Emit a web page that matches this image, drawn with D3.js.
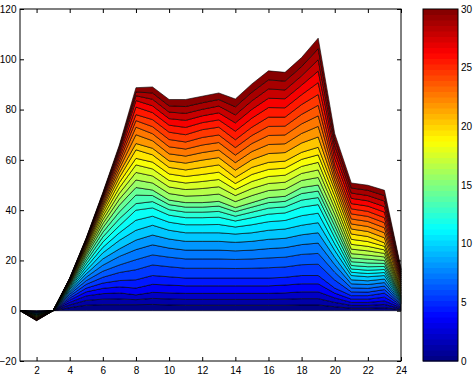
<!DOCTYPE html>
<html>
<head>
<meta charset="utf-8">
<script src="https://cdn.jsdelivr.net/npm/d3@7"></script>
<style>
  body { margin: 0; background: #fff; }
  svg { display: block; font-family: "Liberation Sans", Arial, sans-serif; font-size: 10px; }
</style>
</head>
<body>
<svg id="chart" width="475" height="376"></svg>
<script>
// x positions
const xValues = [1, 2, 3, 4, 5, 6, 7, 8, 9, 10, 11, 12, 13, 14, 15, 16, 17, 18, 19, 20, 21, 22, 23, 24]

// one row per x, 30 layer values each (bottom layer first)
const layerValues = [
  [0,0,0,0,0, 0,0,0,0,0, 0,0,0,0,0, 0,0,0,0,0, 0,0,0,0,0, 0,0,0,0,0],
  [-0.15,-0.15,-0.15,-0.15,-0.15, -0.15,-0.15,-0.15,-0.15,-0.15, -0.13,-0.13,-0.13,-0.13,-0.13, -0.13,-0.13,-0.13,-0.13,-0.13, -0.12,-0.12,-0.12,-0.12,-0.12, -0.12,-0.12,-0.12,-0.12,-0.12],
  [0,0,0,0,0, 0,0,0,0,0, 0,0,0,0,0, 0,0,0,0,0, 0,0,0,0,0, 0,0,0,0,0],
  [1.2,1.1,1.0,0.9,0.8, 0.8,0.75,0.7,0.65,0.6, 0.45,0.42,0.4,0.38,0.35, 0.3,0.28,0.26,0.24,0.22, 0.16,0.15,0.14,0.13,0.12, 0.11,0.1,0.1,0.1,0.09],
  [2.2,1.9,1.8,1.6,1.5, 1.5,1.45,1.4,1.35,1.3, 1.35,1.25,1.2,1.15,1.05, 0.85,0.75,0.7,0.65,0.55, 0.52,0.48,0.46,0.44,0.4, 0.28,0.26,0.24,0.22,0.2],
  [2.4,2.2,2.2,2.1,2.1, 2.3,2.4,2.4,2.5,2.4, 2.2,2.1,2.0,1.9,1.8, 1.6,1.5,1.4,1.3,1.2, 1.05,0.95,0.9,0.85,0.75, 0.6,0.55,0.5,0.45,0.4],
  [2.4,2.3,2.4,2.4,2.5, 3.2,3.0,3.4,3.0,3.4, 3.0,2.8,2.8,2.7,2.7, 2.4,2.3,2.2,2.1,2.0, 1.8,1.7,1.6,1.5,1.4, 1.2,1.1,1.0,0.9,0.8],
  [2.4,2.0,1.9,2.7,3.3, 4.0,4.0,4.0,3.8,3.9, 4.0,4.0,2.6,3.4,3.0, 3.0,3.0,3.0,2.6,3.4, 2.5,3.5,3.0,2.6,2.4, 3.0,2.6,1.9,1.5,1.7],
  [2.5,2.4,2.4,3.2,3.5, 4.2,4.0,4.0,3.9,3.9, 3.6,3.3,2.5,2.4,2.2, 2.8,2.8,2.8,2.7,2.9, 2.6,3.0,2.8,2.8,2.8, 2.8,2.7,2.6,2.5,2.4],
  [2.3,2.4,2.4,3.1,3.3, 4.0,3.8,3.6,3.6,3.5, 3.2,2.8,2.2,2.0,1.8, 2.6,2.6,2.6,2.6,2.6, 2.6,2.8,2.8,2.9,2.9, 2.8,2.6,2.6,2.5,2.5],
  [2.2,2.3,2.4,3.0,3.1, 3.9,3.7,3.5,3.5,3.4, 3.2,2.8,2.2,2.0,1.8, 2.6,2.6,2.6,2.6,2.6, 2.7,2.8,2.8,2.8,2.9, 2.9,2.8,2.8,2.7,2.8],
  [2.2,2.3,2.4,3.0,3.1, 3.9,3.7,3.5,3.5,3.4, 3.2,2.8,2.2,2.0,1.8, 2.8,2.8,2.8,2.8,2.8, 2.9,3.0,3.0,3.0,3.1, 2.8,2.7,2.6,2.6,2.6],
  [2.2,2.3,2.4,3.0,3.1, 3.9,3.7,3.5,3.5,3.4, 3.3,2.9,2.3,2.1,1.9, 2.9,2.9,2.9,2.9,2.9, 2.9,3.0,3.0,3.0,3.1, 2.9,2.8,2.7,2.6,2.6],
  [2.2,2.3,2.4,3.0,3.1, 3.8,3.6,3.4,3.4,3.3, 2.8,2.4,1.9,1.8,1.6, 2.4,2.4,2.4,2.4,2.4, 2.9,3.0,3.0,3.0,3.1, 3.4,3.3,3.2,3.2,3.1],
  [2.2,2.3,2.4,3.0,3.1, 3.9,3.7,3.5,3.5,3.4, 3.2,2.8,2.2,2.0,1.8, 2.8,2.8,2.8,2.8,2.8, 3.1,3.2,3.2,3.2,3.3, 3.6,3.5,3.4,3.4,3.3],
  [2.2,2.3,2.4,3.0,3.1, 4.1,3.9,3.7,3.7,3.6, 3.4,3.0,2.4,2.2,2.0, 2.8,2.8,2.8,2.8,2.8, 3.5,3.6,3.6,3.6,3.7, 3.8,3.7,3.7,3.6,3.6],
  [2.2,2.4,2.5,3.1,3.1, 4.1,3.9,3.8,3.7,3.7, 3.4,3.0,2.4,2.2,2.0, 2.8,2.8,2.8,2.8,2.8, 3.4,3.5,3.5,3.5,3.6, 3.7,3.6,3.5,3.5,3.5],
  [2.3,2.5,2.7,3.2,3.3, 4.3,4.1,3.9,3.9,3.8, 3.8,3.4,2.8,2.6,2.4, 2.8,2.8,2.8,2.8,2.8, 3.7,3.8,3.8,3.8,3.9, 3.9,3.8,3.7,3.7,3.6],
  [2.3,2.5,2.7,3.2,3.3, 4.5,4.3,4.1,4.1,4.0, 3.8,3.4,2.8,2.6,2.4, 3.0,3.0,3.0,3.0,3.0, 4.1,4.2,4.2,4.2,4.3, 4.7,4.6,4.5,4.4,4.2],
  [1.6,1.7,1.8,1.9,2.0, 3.2,3.1,3.0,2.9,2.8, 2.6,2.5,2.4,2.3,2.2, 2.4,2.4,2.4,2.4,2.4, 2.0,2.0,2.0,2.0,2.0, 2.6,2.5,2.5,2.4,2.4],
  [1.0,1.1,1.2,1.3,1.4, 1.5,1.6,1.6,1.6,1.7, 1.3,1.3,1.4,1.5,1.5, 1.7,1.8,1.9,2.0,2.1, 2.0,2.0,2.0,2.0,2.0, 2.1,2.1,2.1,2.0,2.0],
  [1.0,1.1,1.2,1.3,1.4, 1.4,1.5,1.5,1.5,1.6, 1.3,1.3,1.4,1.5,1.5, 1.6,1.7,1.8,1.9,2.0, 2.0,2.0,2.0,2.0,2.0, 2.1,2.1,2.1,2.1,2.0],
  [1.2,1.3,1.4,1.5,1.6, 1.4,1.4,1.4,1.4,1.4, 1.2,1.2,1.2,1.2,1.2, 1.4,1.4,1.4,1.4,1.4, 2.0,2.0,2.0,2.0,2.0, 2.2,2.2,2.2,2.2,2.1],
  [0.4,0.4,0.4,0.4,0.4, 0.4,0.4,0.4,0.4,0.4, 0.4,0.4,0.4,0.4,0.4, 0.6,0.6,0.6,0.6,0.6, 0.8,0.8,0.8,0.8,0.8, 0.8,0.8,0.8,0.8,0.8]
]

const xTicks = [2, 4, 6, 8, 10, 12, 14, 16, 18, 20, 22, 24]
const yTicks = [-20, 0, 20, 40, 60, 80, 100, 120]
const cbTicks = [0, 5, 10, 15, 20, 25, 30]

let plot = { left: 20, right: 401, top: 9, bottom: 361 }
let bar = { left: 423, right: 458 }
let nLayers = 30

let svg = d3.select('#chart')

let x = d3.scaleLinear().domain([1, 24]).range([plot.left, plot.right])
let y = d3.scaleLinear().domain([-20, 120]).range([plot.bottom, plot.top])

// matlab style jet colormap
function jet(t) {
    let c = v => Math.max(0, Math.min(1, v))
    let r = c(1.5 - Math.abs(4 * t - 3))
    let g = c(1.5 - Math.abs(4 * t - 2))
    let b = c(1.5 - Math.abs(4 * t - 1))
    return d3.rgb(r * 255, g * 255, b * 255).formatHex()
}
let jet64 = d3.range(64).map(i => jet((i + 0.5) / 64))
let layerColor = i => jet64[Math.round(i / (nLayers - 1) * 63)]

let table = xValues.map((xv, j) => ({ x: xv, v: layerValues[j] }))
let series = d3.stack()
    .keys(d3.range(nLayers))
    .value((d, k) => d.v[k])
    .offset(d3.stackOffsetDiverging)(table)

let area = d3.area()
    .x(d => x(d.data.x))
    .y0(d => y(d[0]))
    .y1(d => y(d[1]))

svg.append('g')
    .selectAll('path')
    .data(series)
    .join('path')
    .attr('d', area)
    .attr('fill', (d, i) => layerColor(i))
    .attr('stroke', '#000')
    .attr('stroke-width', 0.6)
    .attr('stroke-linejoin', 'round')

// axes, ticks pointing inward
let axisStyle = g => {
    g.select('.domain').remove()
    g.selectAll('line').attr('stroke', '#000')
    g.selectAll('text').attr('fill', '#000').style('font-size', '10px')
}

svg.append('g')
    .attr('transform', `translate(${plot.left},0)`)
    .call(d3.axisLeft(y).tickValues(yTicks).tickSizeInner(-4).tickSizeOuter(0).tickPadding(3.5))
    .call(axisStyle)

svg.append('g')
    .attr('transform', `translate(${plot.right},0)`)
    .call(d3.axisRight(y).tickValues(yTicks).tickSizeInner(-4).tickSizeOuter(0).tickFormat(''))
    .call(axisStyle)

svg.append('g')
    .attr('transform', `translate(0,${plot.bottom})`)
    .call(d3.axisBottom(x).tickValues(xTicks).tickSizeInner(-4).tickSizeOuter(0).tickPadding(6))
    .call(axisStyle)

svg.append('g')
    .attr('transform', `translate(0,${plot.top})`)
    .call(d3.axisTop(x).tickValues(xTicks).tickSizeInner(-4).tickSizeOuter(0).tickFormat(''))
    .call(axisStyle)

svg.append('rect')
    .attr('x', plot.left)
    .attr('y', plot.top)
    .attr('width', plot.right - plot.left)
    .attr('height', plot.bottom - plot.top)
    .attr('fill', 'none')
    .attr('stroke', '#000')
    .attr('stroke-width', 1)

// colorbar
let cb = d3.scaleLinear().domain([0, 30]).range([plot.bottom, plot.top])
let step = 30 / 64
svg.append('g')
    .selectAll('rect')
    .data(jet64)
    .join('rect')
    .attr('x', bar.left)
    .attr('width', bar.right - bar.left)
    .attr('y', (d, i) => cb((i + 1) * step))
    .attr('height', (d, i) => cb(i * step) - cb((i + 1) * step) + 0.5)
    .attr('fill', d => d)

svg.append('g')
    .attr('transform', `translate(${bar.right},0)`)
    .call(d3.axisRight(cb).tickValues(cbTicks).tickSizeInner(0).tickSizeOuter(0).tickPadding(3))
    .call(axisStyle)

svg.append('rect')
    .attr('x', bar.left)
    .attr('y', plot.top)
    .attr('width', bar.right - bar.left)
    .attr('height', plot.bottom - plot.top)
    .attr('fill', 'none')
    .attr('stroke', '#000')
    .attr('stroke-width', 1)
</script>
</body>
</html>
